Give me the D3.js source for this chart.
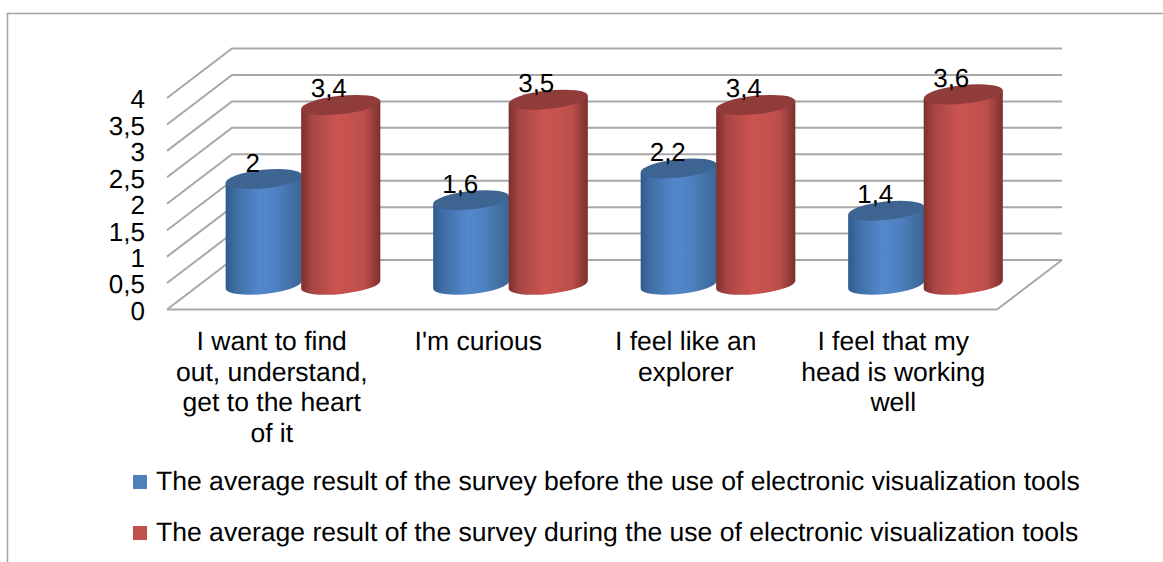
<!DOCTYPE html>
<html>
<head>
<meta charset="utf-8">
<script src="https://cdn.jsdelivr.net/npm/d3@7/dist/d3.min.js"></script>
<style>
html,body{margin:0;padding:0;background:#fff;overflow:hidden}
text{font-family:"Liberation Sans",Arial,sans-serif;fill:#000;text-rendering:geometricPrecision}
</style>
</head>
<body>
<svg id="chart" width="1163" height="562"></svg>
<script>
const categories = [
  ["I want to find", "out, understand,", "get to the heart", "of it"],
  ["I'm curious"],
  ["I feel like an", "explorer"],
  ["I feel that my", "head is working", "well"]
];
const before = [2, 1.6, 2.2, 1.4];
const during = [3.4, 3.5, 3.4, 3.6];
const seriesNames = [
  "The average result of the survey before the use of electronic visualization tools",
  "The average result of the survey during the use of electronic visualization tools"
];
const yTicks = [0, 0.5, 1, 1.5, 2, 2.5, 3, 3.5, 4];

const svg = d3.select("#chart");
const defs = svg.append("defs");

// Plot box: the front plane, plus the depth offset to the back wall
const front = {left: 167, right: 997, bottom: 309.5, top: 98};
const depth = {x: 65, y: -49.5};

const y = d3.scaleLinear().domain([0, 4]).range([front.bottom, front.top]);
const x = d3.scaleBand().domain(d3.range(categories.length)).range([front.left, front.right]);
const comma = v => String(v).replace(".", ",");

// Outer chart frame, open at the right and bottom
svg.append("path")
  .attr("d", "M7.5,562V13.5H1163")
  .attr("fill", "none").attr("stroke", "#a3a3a3").attr("stroke-width", 1.5);

// Wall and floor grid
const grid = svg.append("g").attr("fill", "none").attr("stroke", "#a8a8a8").attr("stroke-width", 2);
yTicks.forEach(t => {
  grid.append("path").attr("d", d3.line()([
    [front.left, y(t)],
    [front.left + depth.x, y(t) + depth.y],
    [front.right + depth.x, y(t) + depth.y]
  ]));
});
grid.append("path").attr("d", d3.line()([
  [front.left, y(0)], [front.right, y(0)], [front.right + depth.x, y(0) + depth.y]
]));

// Value axis labels
const yAxis = d3.axisLeft(y).tickValues(yTicks).tickSize(0).tickPadding(0).tickFormat(comma);
const yG = svg.append("g").attr("transform", "translate(145,0)").call(yAxis);
yG.select(".domain").remove();
yG.selectAll("text").style("font-size", "26px").attr("dy", "0.38em");

// Cylinder gradients: dark rims around a lighter centre
function cylinderGradient(id, stops) {
  const g = defs.append("linearGradient").attr("id", id)
    .attr("x1", "0%").attr("x2", "100%").attr("y1", "0%").attr("y2", "0%");
  stops.forEach(([o, c]) => g.append("stop").attr("offset", o).attr("stop-color", c));
}
cylinderGradient("bodyBlue", [["0%", "#2f5a8c"], ["14%", "#416fa6"], ["45%", "#5388cc"], ["65%", "#4f82c2"], ["100%", "#3b6595"]]);
cylinderGradient("bodyRed", [["0%", "#7c302e"], ["14%", "#a84643"], ["45%", "#cb5450"], ["80%", "#bd4e4a"], ["100%", "#7a302e"]]);

const ry = 9.2, tilt = -6;
const rad = tilt * Math.PI / 180;
const baseY = y(0) + depth.y / 2;
const heightOf = v => y(0) - y(v);

function cylinder(g, cx, rx, v, bodyFill, topFill) {
  const dx = rx * Math.cos(rad), dy = rx * Math.sin(rad);
  const topY = baseY - heightOf(v);
  g.append("path")
    .attr("d", `M${cx - dx},${topY - dy}L${cx - dx},${baseY - dy}` +
      `A${rx},${ry} ${tilt} 0 0 ${cx + dx},${baseY + dy}L${cx + dx},${topY + dy}Z`)
    .attr("fill", bodyFill);
  g.append("ellipse")
    .attr("cx", 0).attr("cy", 0).attr("rx", rx).attr("ry", ry)
    .attr("transform", `translate(${cx},${topY}) rotate(${tilt})`)
    .attr("fill", topFill);
  return topY;
}

// Cylinders sit mid-way through the depth of the plot, blue first so red overlaps it
const bars = svg.append("g");
const labels = [];
categories.forEach((_, i) => {
  const mid = x(i) + x.bandwidth() / 2 + depth.x / 2 - 1.5;
  const bTop = cylinder(bars, mid - 38, 38.3, before[i], "url(#bodyBlue)", "#3e6491");
  const rTop = cylinder(bars, mid + 39, 39.8, during[i], "url(#bodyRed)", "#8f3c3a");
  labels.push({x: mid - 49, y: bTop - 7.5, t: before[i]});
  labels.push({x: mid + 27, y: rTop - 7.5, t: during[i]});
});

// Value labels above each cylinder
svg.append("g").selectAll("text").data(labels).join("text")
  .attr("x", d => d.x).attr("y", d => d.y)
  .attr("text-anchor", "middle").style("font-size", "26px")
  .text(d => comma(d.t));

// Category labels, one line of text per wrapped row
const catG = svg.append("g");
categories.forEach((lines, i) => {
  lines.forEach((line, j) => {
    catG.append("text")
      .attr("x", x(i) + x.bandwidth() / 2 + (i === 0 ? 1 : 0))
      .attr("y", 350 + j * 30.5)
      .attr("text-anchor", "middle").style("font-size", "26.5px")
      .text(line);
  });
});

// Legend
const swatch = ["#4f81bd", "#c0504d"];
const legend = svg.append("g");
seriesNames.forEach((name, i) => {
  const ly = 475 + i * 51;
  legend.append("rect").attr("x", 133).attr("y", ly).attr("width", 14).attr("height", 14).attr("fill", swatch[i]);
  legend.append("text").attr("x", 156).attr("y", ly + 14.5).style("font-size", "26.56px").text(name);
});
</script>
</body>
</html>
